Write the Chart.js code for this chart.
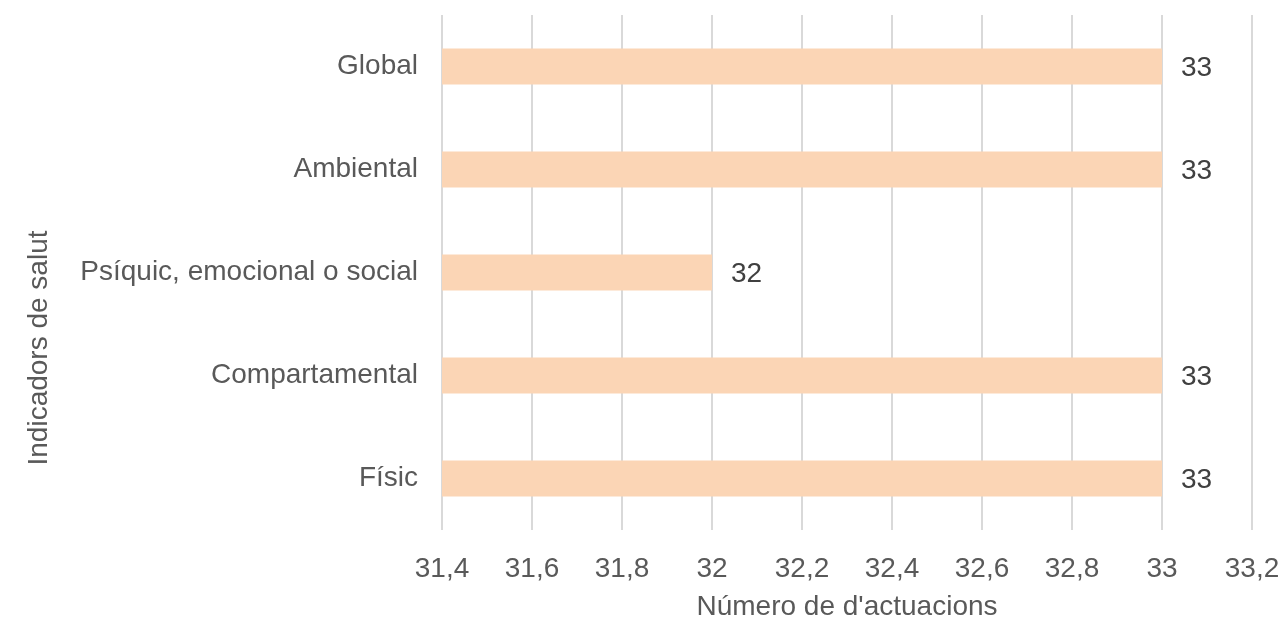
<!DOCTYPE html>
<html>
<head>
<meta charset="utf-8">
<script src="https://cdn.jsdelivr.net/npm/chart.js@4.4.1/dist/chart.umd.min.js"></script>
<style>
  html, body { margin: 0; padding: 0; background: #fff; }
  #wrap { width: 1287px; height: 620px; }
</style>
</head>
<body>
<div id="wrap"><canvas id="myChart" width="1287" height="620"></canvas></div>
<script>
// Dades
const indicadors = ["Global", "Ambiental", "Psíquic, emocional o social", "Compartamental", "Físic"]
const actuacions = [33, 33, 32, 33, 33]
const eixMin = 31.4
const eixMax = 33.2
const eixPas = 0.2
const titolX = "Número de d'actuacions"
const titolY = "Indicadors de salut"

const font = "'Liberation Sans', Arial, sans-serif"
const midaFont = 28

// etiquetes de valor a la dreta de cada barra
const etiquetesPlugin = {
    id: "etiquetes",
    afterDatasetsDraw(chart) {
        const ctx = chart.ctx
        const meta = chart.getDatasetMeta(0)
        ctx.save()
        ctx.font = midaFont + "px " + font
        ctx.fillStyle = "#404040"
        ctx.textAlign = "left"
        ctx.textBaseline = "middle"
        meta.data.forEach((bar, i) => {
            ctx.fillText(String(actuacions[i]), bar.x + 19, bar.y + 2)
        })
        ctx.restore()
    }
}

// títol de l'eix vertical
const titolYPlugin = {
    id: "titolY",
    afterDraw(chart) {
        const ctx = chart.ctx
        ctx.save()
        ctx.translate(39, 348)
        ctx.rotate(-Math.PI / 2)
        ctx.font = midaFont + "px " + font
        ctx.fillStyle = "#595959"
        ctx.textAlign = "center"
        ctx.textBaseline = "middle"
        ctx.fillText(titolY, 0, 0)
        ctx.restore()
    }
}

function formatNum(v) {
    return Number(v.toFixed(1)).toString().replace(".", ",")
}

function sensePadding(scale) {
    scale.paddingTop = 0
    scale.paddingBottom = 0
    scale.paddingLeft = 0
    scale.paddingRight = 0
}

const config = {
    type: "bar",
    data: {
        labels: indicadors,
        datasets: [{
            data: actuacions,
            backgroundColor: "#FBD5B5",
            borderWidth: 0,
            categoryPercentage: 1,
            barPercentage: 0.35
        }]
    },
    options: {
        indexAxis: "y",
        responsive: false,
        animation: false,
        layout: { padding: { left: 0, right: 35, top: 15, bottom: 0 } },
        plugins: {
            legend: { display: false },
            tooltip: { enabled: false }
        },
        scales: {
            x: {
                min: eixMin,
                max: eixMax,
                ticks: {
                    stepSize: eixPas,
                    padding: 22,
                    color: "#595959",
                    font: { family: font, size: midaFont },
                    callback: (v) => formatNum(v)
                },
                grid: { color: "#d9d9d9", lineWidth: 2, drawTicks: false },
                border: { display: false },
                title: {
                    display: true,
                    text: titolX,
                    color: "#595959",
                    font: { family: font, size: midaFont },
                    padding: { top: 0, bottom: -4 }
                },
                afterFit: (scale) => { scale.height = 90; sensePadding(scale) }
            },
            y: {
                ticks: {
                    padding: 24,
                    color: "#595959",
                    font: { family: font, size: midaFont }
                },
                grid: { display: false, drawTicks: false },
                border: { display: false },
                afterFit: (scale) => { scale.width = 442; sensePadding(scale) }
            }
        }
    },
    plugins: [etiquetesPlugin, titolYPlugin]
}

const myChart = new Chart(document.querySelector("#myChart").getContext("2d"), config)
</script>
</body>
</html>
